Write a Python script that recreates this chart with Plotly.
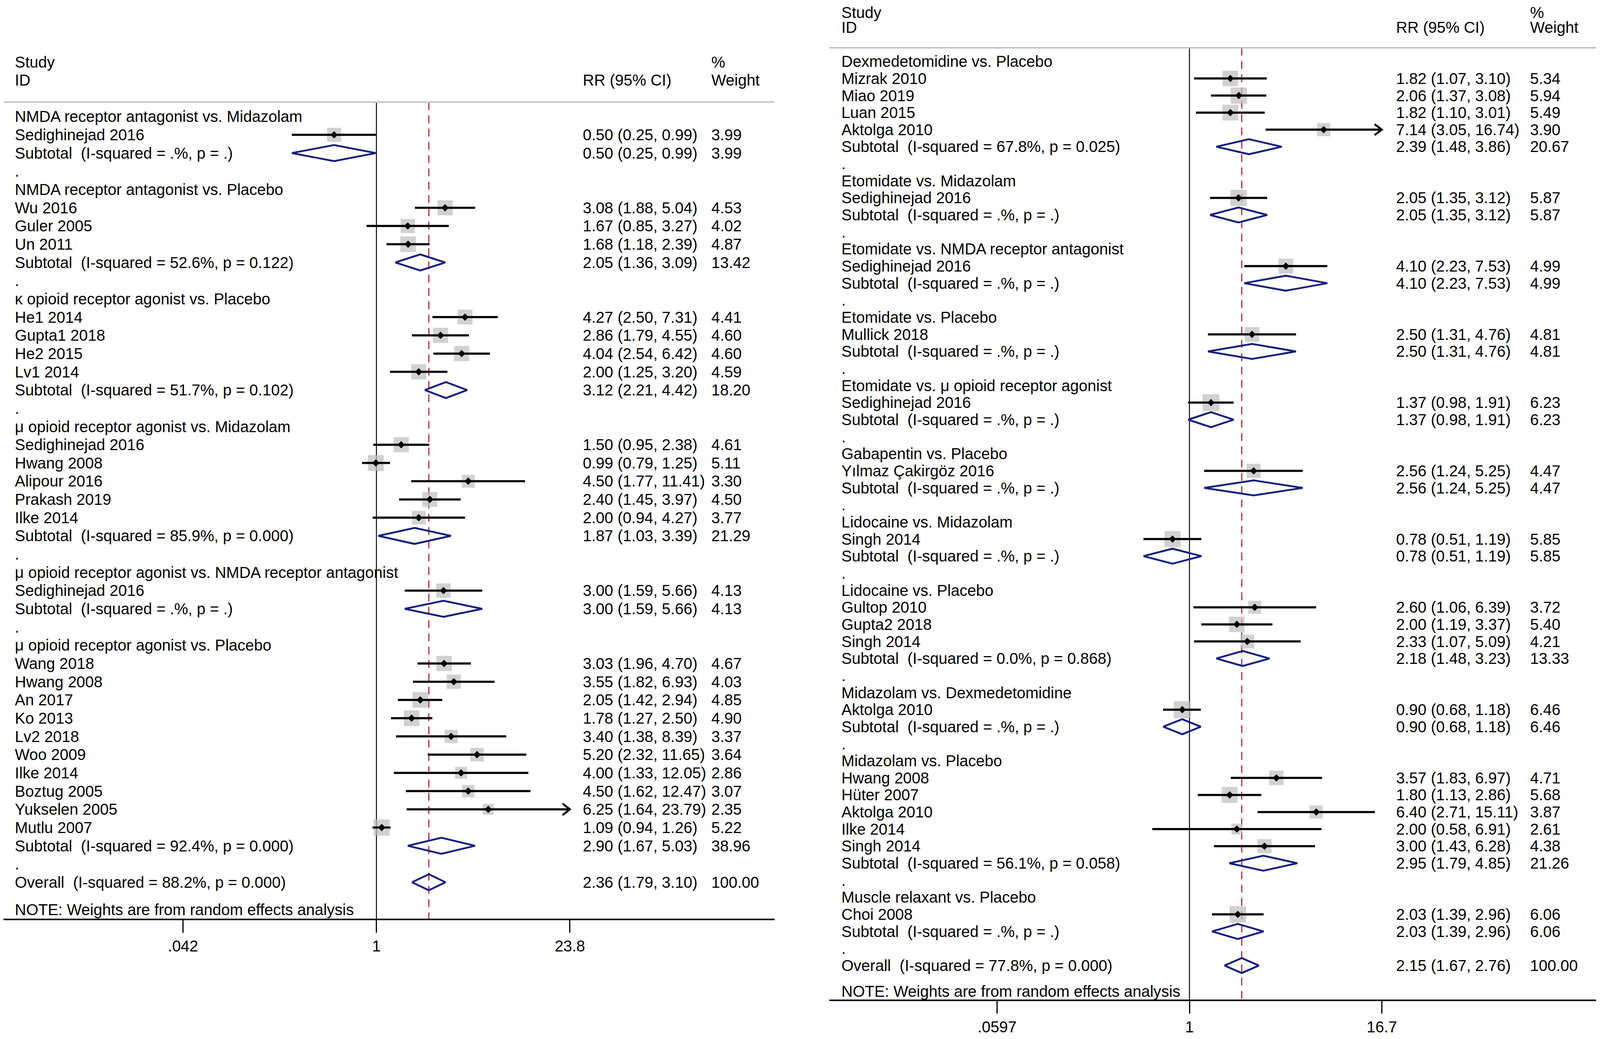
import math

import plotly.graph_objects as go

# ---------------- left panel data ----------------
L_GROUPS = [
    "NMDA receptor antagonist vs. Midazolam",
    "NMDA receptor antagonist vs. Placebo",
    "κ opioid receptor agonist vs. Placebo",
    "μ opioid receptor agonist vs. Midazolam",
    "μ opioid receptor agonist vs. NMDA receptor antagonist",
    "μ opioid receptor agonist vs. Placebo",
]
L_GROUP_N = [1, 3, 4, 5, 1, 10]
L_STUDIES = [
    "Sedighinejad 2016",
    "Wu 2016", "Guler 2005", "Un 2011",
    "He1 2014", "Gupta1 2018", "He2 2015", "Lv1 2014",
    "Sedighinejad 2016", "Hwang 2008", "Alipour 2016", "Prakash 2019", "Ilke 2014",
    "Sedighinejad 2016",
    "Wang 2018", "Hwang 2008", "An 2017", "Ko 2013", "Lv2 2018", "Woo 2009",
    "Ilke 2014", "Boztug 2005", "Yukselen 2005", "Mutlu 2007",
]
L_RR = [0.50, 3.08, 1.67, 1.68, 4.27, 2.86, 4.04, 2.00, 1.50, 0.99, 4.50, 2.40,
        2.00, 3.00, 3.03, 3.55, 2.05, 1.78, 3.40, 5.20, 4.00, 4.50, 6.25, 1.09]
L_LO = [0.25, 1.88, 0.85, 1.18, 2.50, 1.79, 2.54, 1.25, 0.95, 0.79, 1.77, 1.45,
        0.94, 1.59, 1.96, 1.82, 1.42, 1.27, 1.38, 2.32, 1.33, 1.62, 1.64, 0.94]
L_HI = [0.99, 5.04, 3.27, 2.39, 7.31, 4.55, 6.42, 3.20, 2.38, 1.25, 11.41, 3.97,
        4.27, 5.66, 4.70, 6.93, 2.94, 2.50, 8.39, 11.65, 12.05, 12.47, 23.79, 1.26]
L_WT = [3.99, 4.53, 4.02, 4.87, 4.41, 4.60, 4.60, 4.59, 4.61, 5.11, 3.30, 4.50,
        3.77, 4.13, 4.67, 4.03, 4.85, 4.90, 3.37, 3.64, 2.86, 3.07, 2.35, 5.22]
L_SUB_I2 = [None, 52.6, 51.7, 85.9, None, 92.4]
L_SUB_P = [None, 0.122, 0.102, 0.000, None, 0.000]
L_SUB_RR = [0.50, 2.05, 3.12, 1.87, 3.00, 2.90]
L_SUB_LO = [0.25, 1.36, 2.21, 1.03, 1.59, 1.67]
L_SUB_HI = [0.99, 3.09, 4.42, 3.39, 5.66, 5.03]
L_SUB_WT = [3.99, 13.42, 18.20, 21.29, 4.13, 38.96]
L_OVERALL = [2.36, 1.79, 3.10]   # RR, lower, upper
L_OVERALL_HET = [88.2, 0.000]    # I-squared, p
L_TICKTEXT = [".042", "1", "23.8"]

# ---------------- right panel data ----------------
R_GROUPS = [
    "Dexmedetomidine vs. Placebo",
    "Etomidate vs. Midazolam",
    "Etomidate vs. NMDA receptor antagonist",
    "Etomidate vs. Placebo",
    "Etomidate vs. μ opioid receptor agonist",
    "Gabapentin vs. Placebo",
    "Lidocaine vs. Midazolam",
    "Lidocaine vs. Placebo",
    "Midazolam vs. Dexmedetomidine",
    "Midazolam vs. Placebo",
    "Muscle relaxant vs. Placebo",
]
R_GROUP_N = [4, 1, 1, 1, 1, 1, 1, 3, 1, 5, 1]
R_STUDIES = [
    "Mizrak 2010", "Miao 2019", "Luan 2015", "Aktolga 2010",
    "Sedighinejad 2016",
    "Sedighinejad 2016",
    "Mullick 2018",
    "Sedighinejad 2016",
    "Yılmaz Çakirgöz 2016",
    "Singh 2014",
    "Gultop 2010", "Gupta2 2018", "Singh 2014",
    "Aktolga 2010",
    "Hwang 2008", "Hüter 2007", "Aktolga 2010", "Ilke 2014", "Singh 2014",
    "Choi 2008",
]
R_RR = [1.82, 2.06, 1.82, 7.14, 2.05, 4.10, 2.50, 1.37, 2.56, 0.78,
        2.60, 2.00, 2.33, 0.90, 3.57, 1.80, 6.40, 2.00, 3.00, 2.03]
R_LO = [1.07, 1.37, 1.10, 3.05, 1.35, 2.23, 1.31, 0.98, 1.24, 0.51,
        1.06, 1.19, 1.07, 0.68, 1.83, 1.13, 2.71, 0.58, 1.43, 1.39]
R_HI = [3.10, 3.08, 3.01, 16.74, 3.12, 7.53, 4.76, 1.91, 5.25, 1.19,
        6.39, 3.37, 5.09, 1.18, 6.97, 2.86, 15.11, 6.91, 6.28, 2.96]
R_WT = [5.34, 5.94, 5.49, 3.90, 5.87, 4.99, 4.81, 6.23, 4.47, 5.85,
        3.72, 5.40, 4.21, 6.46, 4.71, 5.68, 3.87, 2.61, 4.38, 6.06]
R_SUB_I2 = [67.8, None, None, None, None, None, None, 0.0, None, 56.1, None]
R_SUB_P = [0.025, None, None, None, None, None, None, 0.868, None, 0.058, None]
R_SUB_RR = [2.39, 2.05, 4.10, 2.50, 1.37, 2.56, 0.78, 2.18, 0.90, 2.95, 2.03]
R_SUB_LO = [1.48, 1.35, 2.23, 1.31, 0.98, 1.24, 0.51, 1.48, 0.68, 1.79, 1.39]
R_SUB_HI = [3.86, 3.12, 7.53, 4.76, 1.91, 5.25, 1.19, 3.23, 1.18, 4.85, 2.96]
R_SUB_WT = [20.67, 5.87, 4.99, 4.81, 6.23, 4.47, 5.85, 13.33, 6.46, 21.26, 6.06]
R_OVERALL = [2.15, 1.67, 2.76]
R_OVERALL_HET = [77.8, 0.000]
R_TICKTEXT = [".0597", "1", "16.7"]

# reference pixels -> css pixels: the page is 4096 css px wide, 2659 tall,
# with the default 8px body margin
SX, SY = 4548 / 4096, 1.0
OFF = 8
FW, FH = 4078, 2642


def px(xd):
    return min(1.0, max(0.0, (xd / SX - OFF) / FW))


def py(yd):
    return min(1.0, max(0.0, 1 - (yd / SY - OFF) / FH))


FONT = "Liberation Sans, Arial, sans-serif"
FS = 40
NAVY = "#15207c"
NBSP = "\u00a0"


def het_text(i2, p):
    if i2 is None:
        return "(I-squared = .%, p = .)"
    return f"(I-squared = {i2:.1f}%, p = {p:.3f})"


def build_rows(groups, group_n, studies, rr, lo, hi, wt,
               s_i2, s_p, s_rr, s_lo, s_hi, s_wt, overall, overall_het):
    rows = []
    k = 0
    for g, name in enumerate(groups):
        rows.append(dict(kind="head", label=name))
        for _ in range(group_n[g]):
            rows.append(dict(kind="study", label=studies[k], rr=rr[k],
                             lo=lo[k], hi=hi[k], wt=wt[k]))
            k += 1
        rows.append(dict(kind="sub", label="Subtotal" + NBSP + " " + het_text(s_i2[g], s_p[g]),
                         rr=s_rr[g], lo=s_lo[g], hi=s_hi[g], wt=s_wt[g]))
        rows.append(dict(kind="dot", label="."))
    rows.append(dict(kind="overall",
                     label="Overall" + NBSP + " " + het_text(*overall_het),
                     rr=overall[0], lo=overall[1], hi=overall[2], wt=100.0))
    return rows


fig = go.Figure()
annotations = []
shapes = []


def add_panel(rows, xa, ya, box_k, col_x, chev_dec, head_y):
    xmax = max(r["hi"] for r in rows if r["kind"] == "study")
    n_over = len(rows) - 1
    bottom = n_over + 2

    ci_x, ci_y = [], []
    sq_x, sq_y, sq_s = [], [], []
    dm_x, dm_y = [], []
    ch_x, ch_y = [], []
    for i, r in enumerate(rows):
        if r["kind"] == "study":
            sq_x.append(r["rr"])
            sq_y.append(i)
            sq_s.append(box_k * math.sqrt(r["wt"]) / 1.05)
            ci_x += [r["lo"], r["hi"], None]
            ci_y += [i, i, None]
            if r["hi"] >= xmax:
                back = r["hi"] / 10 ** chev_dec
                ch_x += [back, r["hi"], back, None]
                ch_y += [i - 0.32, i, i + 0.32, None]
        elif r["kind"] in ("sub", "overall"):
            dm_x += [r["lo"], r["rr"], r["hi"], r["rr"], r["lo"], None]
            dm_y += [i, i - 0.44, i, i + 0.44, i, None]

    ov = rows[-1]["rr"]
    common = dict(xaxis=xa, yaxis=ya, showlegend=False, hoverinfo="skip")
    # null line and overall dashed line
    fig.add_trace(go.Scatter(x=[1, 1], y=[-0.8, bottom], mode="lines",
                             line=dict(color="black", width=2.4), **common))
    fig.add_trace(go.Scatter(x=[ov, ov], y=[-0.8, bottom], mode="lines",
                             line=dict(color="#a3222c", width=2.8, dash="20px,14px"),
                             **common))
    fig.add_trace(go.Scatter(x=sq_x, y=sq_y, mode="markers",
                             marker=dict(symbol="square", size=sq_s, color="#bdbdbd",
                                         line=dict(width=0)), **common))
    fig.add_trace(go.Scatter(x=ci_x, y=ci_y, mode="lines",
                             line=dict(color="black", width=5.5), **common))
    fig.add_trace(go.Scatter(x=ch_x, y=ch_y, mode="lines",
                             line=dict(color="black", width=5), **common))
    fig.add_trace(go.Scatter(x=sq_x, y=sq_y, mode="markers",
                             marker=dict(symbol="diamond", size=14.5, color="black"),
                             **common))
    fig.add_trace(go.Scatter(x=dm_x, y=dm_y, mode="lines",
                             line=dict(color=NAVY, width=4.8), **common))

    txt = dict(showarrow=False, xref="paper", yref=ya, xanchor="left",
               yanchor="middle", font=dict(family=FONT, size=FS, color="black"))
    sx, rx, wx = col_x
    annotations.append(dict(x=sx, y=head_y, text="Study", **txt))
    annotations.append(dict(x=sx, y=-2, text="ID", **txt))
    annotations.append(dict(x=rx, y=-2, text="RR (95% CI)", **txt))
    annotations.append(dict(x=wx, y=head_y, text="%", **txt))
    annotations.append(dict(x=wx, y=-2, text="Weight", **txt))
    for i, r in enumerate(rows):
        annotations.append(dict(x=sx, y=i, text=r["label"], **txt))
        if "rr" in r:
            annotations.append(dict(
                x=rx, y=i, text=f"{r['rr']:.2f} ({r['lo']:.2f}, {r['hi']:.2f})", **txt))
            annotations.append(dict(x=wx, y=i, text=f"{r['wt']:.2f}", **txt))
    annotations.append(dict(x=sx, y=n_over + 1.5,
                            text="NOTE: Weights are from random effects analysis", **txt))

    shapes.append(dict(type="line", xref=xa + " domain", yref=ya, x0=0, x1=1,
                       y0=-0.8, y1=-0.8, line=dict(color="#c4c4c4", width=4)))
    return xmax, bottom


left_rows = build_rows(L_GROUPS, L_GROUP_N, L_STUDIES, L_RR, L_LO, L_HI, L_WT,
                       L_SUB_I2, L_SUB_P, L_SUB_RR, L_SUB_LO, L_SUB_HI, L_SUB_WT,
                       L_OVERALL, L_OVERALL_HET)
right_rows = build_rows(R_GROUPS, R_GROUP_N, R_STUDIES, R_RR, R_LO, R_HI, R_WT,
                        R_SUB_I2, R_SUB_P, R_SUB_RR, R_SUB_LO, R_SUB_HI, R_SUB_WT,
                        R_OVERALL, R_OVERALL_HET)

l_max, l_bottom = add_panel(left_rows, "x", "y", 19,
                            (px(40), px(1654), px(2020)), 21 / 399.5, -3)
r_max, r_bottom = add_panel(right_rows, "x2", "y2", 18,
                            (px(2389), px(3966), px(4347)), 21 / 447.8, -2.86)

# axis geometry in reference pixels: panel edges, position of x=1, px per decade
L_EDGE, L_ONE, L_DEC = (10, 2202), 1070, 399.5
R_EDGE, R_ONE, R_DEC = (2357, 4541), 3383, 447.8
L_ROW0, L_STEP, L_TOP = 300, 46.9, -3.5
R_ROW0, R_STEP, R_TOP = 158, 43.89, -3.2

xax = dict(type="log", showgrid=False, zeroline=False, showline=True,
           linecolor="black", linewidth=4, ticks="outside", ticklen=32,
           tickwidth=2.7, tickcolor="black", mirror=False,
           tickfont=dict(family=FONT, size=FS, color="black"))

fig.update_layout(
    width=FW,
    height=FH,
    margin=dict(l=0, r=0, t=0, b=0),
    plot_bgcolor="white",
    paper_bgcolor="white",
    xaxis=dict(domain=[px(L_EDGE[0]), px(L_EDGE[1])],
               range=[(L_EDGE[0] - L_ONE) / L_DEC, (L_EDGE[1] - L_ONE) / L_DEC],
               anchor="y", tickvals=[1 / l_max, 1, l_max], ticktext=L_TICKTEXT, **xax),
    yaxis=dict(domain=[py(L_ROW0 + L_STEP * l_bottom), py(L_ROW0 + L_STEP * L_TOP)],
               range=[l_bottom, L_TOP], visible=False, anchor="x"),
    xaxis2=dict(domain=[px(R_EDGE[0]), px(R_EDGE[1])],
                range=[(R_EDGE[0] - R_ONE) / R_DEC, (R_EDGE[1] - R_ONE) / R_DEC],
                anchor="y2", tickvals=[1 / r_max, 1, r_max], ticktext=R_TICKTEXT, **xax),
    yaxis2=dict(domain=[py(R_ROW0 + R_STEP * r_bottom), py(R_ROW0 + R_STEP * R_TOP)],
                range=[r_bottom, R_TOP], visible=False, anchor="x2"),
    annotations=annotations,
    shapes=shapes,
)

fig.write_html("out.html")
